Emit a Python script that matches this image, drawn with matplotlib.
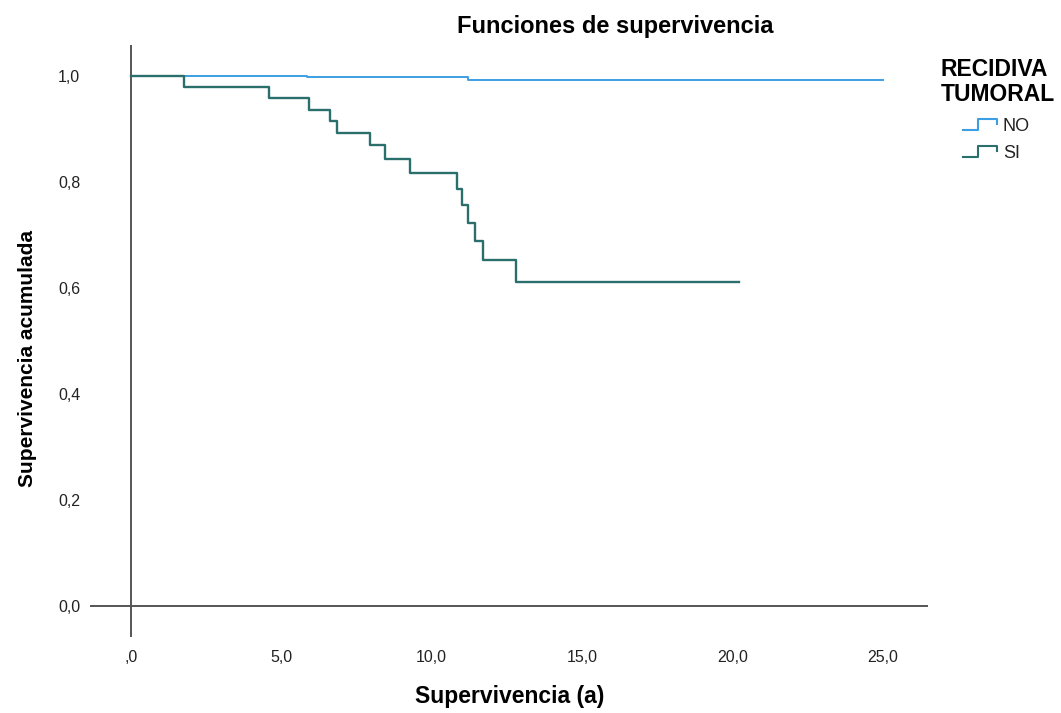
import matplotlib
matplotlib.use("Agg")
import matplotlib.pyplot as plt
from matplotlib.legend_handler import HandlerBase
from matplotlib.lines import Line2D

plt.rcParams['font.family'] = ['Liberation Sans', 'DejaVu Sans']

# ---- data ----
no_time = [0.0, 5.85, 11.2, 25.0]
no_surv = [1.0, 0.997, 0.9925, 0.9925]

si_time = [0.0, 1.76, 4.58, 5.92, 6.61, 6.84, 7.94, 8.45, 9.27, 10.85,
           11.02, 11.22, 11.44, 11.71, 12.81, 20.23]
si_surv = [1.0, 0.979, 0.958, 0.936, 0.914, 0.893, 0.869, 0.843, 0.817,
           0.787, 0.756, 0.723, 0.689, 0.653, 0.612, 0.612]

x_ticks = [0, 5, 10, 15, 20, 25]
x_tick_labels = [",0", "5,0", "10,0", "15,0", "20,0", "25,0"]
y_ticks = [0.0, 0.2, 0.4, 0.6, 0.8, 1.0]
y_tick_labels = ["0,0", "0,2", "0,4", "0,6", "0,8", "1,0"]

series_labels = ["NO", "SI"]
legend_title = "RECIDIVA\nTUMORAL"
colors = ["#3d9fe3", "#2b6f6c"]

W, H = 1061, 713
fig = plt.figure(figsize=(W / 100, H / 100), dpi=100)
ax = fig.add_axes([90 / W, 1 - 637 / H, (928 - 90) / W, (637 - 45) / H])

l1, = ax.step(no_time, no_surv, where='post', color=colors[0], lw=1.4)
l2, = ax.step(si_time, si_surv, where='post', color=colors[1], lw=1.7)

ax.set_xlim(-1.36, 26.5)
ax.set_ylim(-0.058, 1.058)
for s in ax.spines.values():
    s.set_visible(False)
ax.axhline(0, color="#555555", lw=1.4, zorder=0)
ax.axvline(0, color="#555555", lw=1.4, zorder=0)

ax.set_xticks(x_ticks)
ax.set_xticklabels(x_tick_labels, fontsize=11.5, color="#222222")
ax.set_yticks(y_ticks)
ax.set_yticklabels(y_tick_labels, fontsize=11.5, color="#222222")
ax.tick_params(axis='x', length=0, pad=9)
ax.tick_params(axis='y', length=0, pad=7)

fig.text(615 / W, 1 - 27 / H, "Funciones de supervivencia", ha='center',
         va='center', fontsize=17, fontweight='bold')
fig.text(510 / W, 1 - 697 / H, "Supervivencia (a)", ha='center',
         va='center', fontsize=16.5, fontweight='bold')
fig.text(28 / W, 1 - 358 / H, "Supervivencia acumulada", ha='center',
         va='center', rotation=90, fontsize=15, fontweight='bold')

fig.text(941 / W, 1 - 58 / H, legend_title, ha='left', va='top',
         fontsize=16.5, fontweight='bold', linespacing=1.12)


class StepHandler(HandlerBase):
    def create_artists(self, legend, orig_handle, xdescent, ydescent,
                       width, height, fontsize, trans):
        xs = [0, 0.43, 0.43, 1.0, 1.0]
        ys = [0.1, 0.1, 0.9, 0.9, 0.55]
        line = Line2D([x * width - xdescent for x in xs],
                      [y * height - ydescent for y in ys],
                      color=orig_handle.get_color(), lw=1.5,
                      transform=trans)
        return [line]


leg = fig.legend([l1, l2], series_labels, loc='upper left',
                 bbox_to_anchor=(963 / W, 1 - 118 / H), frameon=False,
                 fontsize=13, borderpad=0, borderaxespad=0,
                 handler_map={Line2D: StepHandler()},
                 handlelength=1.9, handleheight=0.75, handletextpad=0.3,
                 labelspacing=0.55)
for t in leg.get_texts():
    t.set_color("#222222")

fig.savefig("out.png", dpi=100)
